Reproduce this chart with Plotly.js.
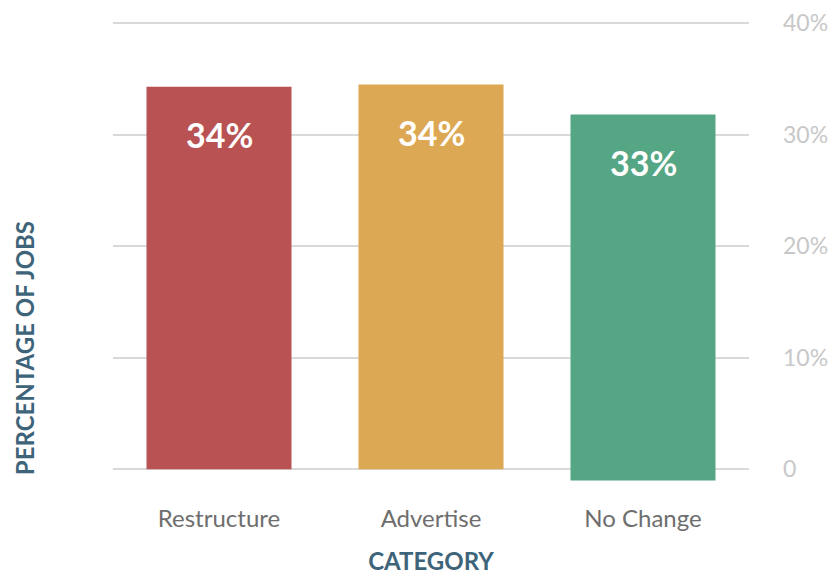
<!DOCTYPE html>
<html>
<head>
<meta charset="utf-8">
<script src="https://cdn.plot.ly/plotly-3.0.1.min.js"></script>
<style>html,body{margin:0;padding:0;background:#fff;}#chart{width:835px;height:575px;}</style>
</head>
<body>
<div id="chart"></div>
<script>
const categories = ["Restructure", "Advertise", "No Change"];
const values = [34.3, 34.5, 32.8];
const bases = [0, 0, -1];
const labels = ["34%", "34%", "33%"];
const colors = ["#b95252", "#dda854", "#55a684"];
const tickVals = [0, 10, 20, 30, 40];
const tickText = ["0", "10%", "20%", "30%", "40%"];

const FONT = "Lato, sans-serif";

const trace = {
  type: "bar",
  x: categories,
  y: values,
  base: bases,
  marker: {color: colors},
  hoverinfo: "skip"
};

const annotations = categories.map((c, i) => ({
  x: c, y: bases[i] + values[i], xref: "x", yref: "y",
  text: labels[i], showarrow: false, yanchor: "middle", yshift: -48,
  font: {family: FONT, size: 34, color: "#ffffff", weight: "bold"}
}));
annotations.push({
  xref: "paper", yref: "paper", x: -0.14, y: 0.297, xanchor: "center", yanchor: "middle",
  text: "PERCENTAGE OF JOBS", textangle: -90, showarrow: false,
  font: {family: FONT, size: 24, color: "#3e6479", weight: "bold"}
});

const layout = {
  width: 835, height: 575,
  margin: {l: 113, r: 86, t: 22, b: 89},
  paper_bgcolor: "#fff", plot_bgcolor: "#fff",
  showlegend: false,
  bargap: 0.316,
  font: {family: FONT},
  xaxis: {
    type: "category",
    showgrid: false, zeroline: false, showline: false,
    ticks: "", ticklabelstandoff: 16,
    tickfont: {family: FONT, size: 24, color: "#6e6e6e"},
    title: {text: "CATEGORY", standoff: 26,
      font: {family: FONT, size: 24, color: "#3e6479", weight: "bold"}},
    automargin: false
  },
  yaxis: {
    side: "right",
    range: [-1.5, 40.1],
    tickvals: tickVals, ticktext: tickText,
    showgrid: true, gridcolor: "#d9d9d9", gridwidth: 2,
    zeroline: false, showline: false, ticks: "",
    ticklabelstandoff: 33,
    tickfont: {family: FONT, size: 23, color: "#c8c8c8"},
    automargin: false
  },
  annotations: annotations
};

Plotly.newPlot("chart", [trace], layout, {displayModeBar: false, staticPlot: true});
</script>
</body>
</html>
